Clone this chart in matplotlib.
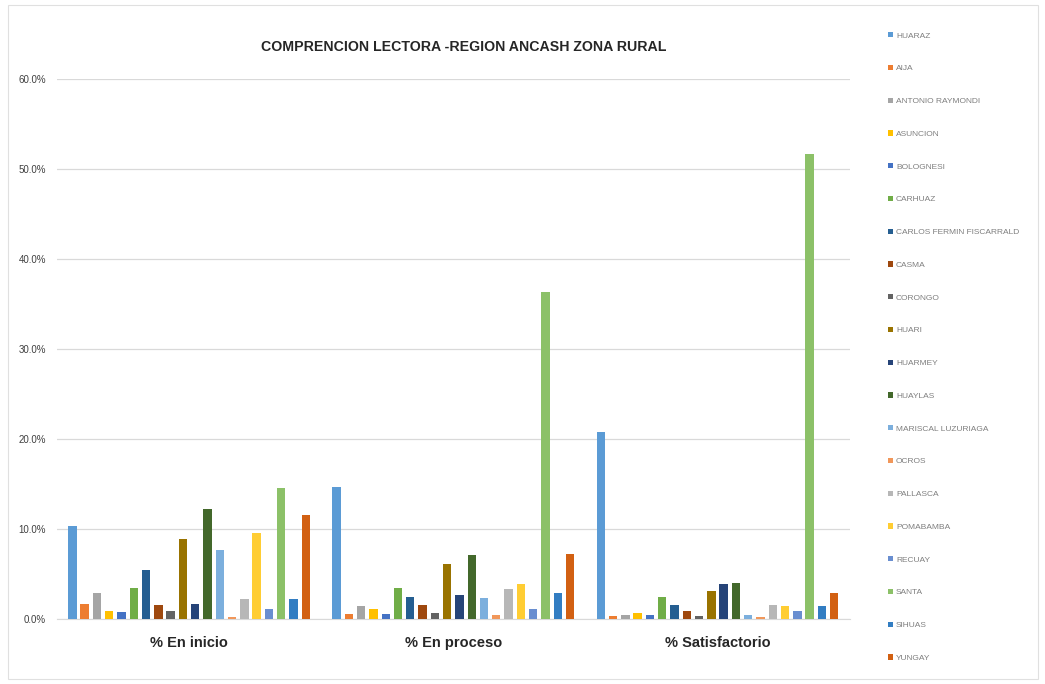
import matplotlib
matplotlib.use("Agg")
import matplotlib.pyplot as plt
import numpy as np
from matplotlib.ticker import FuncFormatter, MultipleLocator

categories = ["% En inicio", "% En proceso", "% Satisfactorio"]
provinces = ["HUARAZ", "AIJA", "ANTONIO RAYMONDI", "ASUNCION", "BOLOGNESI", "CARHUAZ",
             "CARLOS FERMIN FISCARRALD", "CASMA", "CORONGO", "HUARI", "HUARMEY", "HUAYLAS",
             "MARISCAL LUZURIAGA", "OCROS", "PALLASCA", "POMABAMBA", "RECUAY", "SANTA",
             "SIHUAS", "YUNGAY"]
en_inicio = [10.3, 1.7, 2.85, 0.9, 0.8, 3.5, 5.4, 1.55, 0.9, 8.85,
             1.7, 12.2, 7.7, 0.25, 2.25, 9.6, 1.15, 14.6, 2.25, 11.6]
en_proceso = [14.7, 0.55, 1.45, 1.1, 0.55, 3.4, 2.5, 1.6, 0.7, 6.1,
              2.7, 7.1, 2.35, 0.45, 3.3, 3.85, 1.15, 36.3, 2.9, 7.2]
satisfactorio = [20.8, 0.33, 0.48, 0.7, 0.5, 2.5, 1.6, 0.9, 0.33, 3.1,
                 3.85, 4.0, 0.48, 0.26, 1.6, 1.45, 0.9, 51.7, 1.5, 2.85]
colors = ["#5B9BD5", "#ED7D31", "#A5A5A5", "#FFC000", "#4472C4", "#70AD47",
          "#255E91", "#9E480E", "#636363", "#997300", "#264478", "#43682B",
          "#7CAFDD", "#F1975A", "#B7B7B7", "#FFCD33", "#698ED0", "#8CC168",
          "#327DC2", "#D26012"]

plt.rcParams["font.family"] = ["Liberation Sans", "DejaVu Sans"]

values = np.array([en_inicio, en_proceso, satisfactorio]) / 100.0

fig = plt.figure(figsize=(10.45, 6.84), dpi=100)
ax = fig.add_axes([0.0545, 0.095, 0.7585, 0.7895])

n = len(provinces)
x = np.arange(len(categories))
group_w = 0.93
slot = group_w / n
bw = slot * 0.68
for i in range(n):
    pos = x - group_w / 2 + slot * (i + 0.5)
    ax.bar(pos, values[:, i], width=bw, color=colors[i], label=provinces[i], zorder=3)

ax.set_xlim(-0.5, 2.5)
ax.set_ylim(0, 0.6)
ax.yaxis.set_major_locator(MultipleLocator(0.1))
ax.yaxis.set_major_formatter(FuncFormatter(lambda v, p: f"{v*100:.1f}%"))
ax.grid(axis="y", color="#D9D9D9", linewidth=0.9, zorder=0)
ax.set_xticks(x)
ax.set_xticklabels(categories, fontsize=10.5, fontweight="bold", color="#262626")
ax.tick_params(axis="x", length=0, pad=12)
ax.tick_params(axis="y", length=0, labelsize=7, colors="#404040", pad=8)
for s in ["top", "right", "left"]:
    ax.spines[s].set_visible(False)
ax.spines["bottom"].set_color("#D9D9D9")

fig.text(0.444, 0.931, "COMPRENCION LECTORA -REGION ANCASH ZONA RURAL",
         ha="center", va="center", fontsize=10.2, fontweight="bold", color="#262626")

handles, labels = ax.get_legend_handles_labels()
leg = fig.legend(handles, labels, loc="upper left", bbox_to_anchor=(0.843, 0.964),
                 frameon=False, fontsize=6, labelspacing=3.02, handlelength=0.6,
                 handleheight=0.6, handletextpad=0.3, labelcolor="#7F7F7F")

fig.patches.append(plt.Rectangle((0.008, 0.008), 0.985, 0.985, transform=fig.transFigure,
                                 fill=False, edgecolor="#E0E0E0", linewidth=0.8))

fig.savefig("out.png", dpi=100)
